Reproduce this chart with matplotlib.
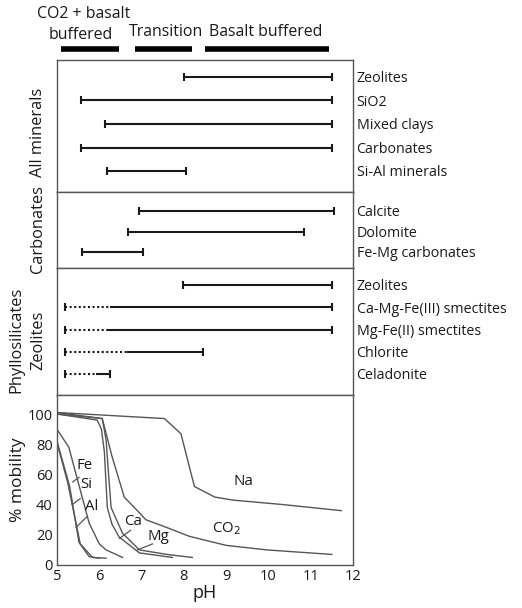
import matplotlib
matplotlib.use("Agg")
import matplotlib.pyplot as plt
import matplotlib.transforms as mtransforms

plt.rcParams['font.family'] = ['Open Sans', 'DejaVu Sans']

# ---------------- data ----------------
# Panel 1: All minerals (pH ranges)
all_names = ["Zeolites", "SiO2", "Mixed clays", "Carbonates", "Si-Al minerals"]
all_start = [8.0, 5.56, 6.13, 5.56, 6.19]
all_end = [11.5, 11.5, 11.5, 11.5, 8.06]

# Panel 2: Carbonates
carb_names = ["Calcite", "Dolomite", "Fe-Mg carbonates"]
carb_start = [6.93, 6.68, 5.6]
carb_end = [11.56, 10.84, 7.03]

# Panel 3: Phyllosilicates / Zeolites (dotted part, then solid part)
phyl_names = ["Zeolites", "Ca-Mg-Fe(III) smectites", "Mg-Fe(II) smectites",
              "Chlorite", "Celadonite"]
phyl_dot_start = [None, 5.19, 5.19, 5.19, 5.19]
phyl_start = [7.97, 6.26, 6.2, 6.65, 5.92]
phyl_end = [11.5, 11.5, 11.5, 8.45, 6.26]

# Header regimes
regime_names = ["CO2 + basalt\nbuffered", "Transition", "Basalt buffered"]
regime_start = [5.1, 6.85, 8.5]
regime_end = [6.47, 8.2, 11.44]

# Panel 4: % mobility curves
na_ph = [5.0, 7.54, 7.93, 8.25, 8.73, 9.16, 10.35, 11.72]
na_val = [101, 97, 87, 52, 45, 43, 40, 36]
co2_ph = [5.0, 6.07, 6.3, 6.59, 6.9, 7.1, 7.58, 8.13, 9.0, 9.96, 11.5]
co2_val = [101, 97, 72, 45, 36, 30, 25, 19, 13, 10, 7]
ca_ph = [5.0, 5.95, 6.05, 6.12, 6.19, 6.3, 6.47, 6.95, 7.73]
ca_val = [100, 96, 90, 75, 38, 27, 18.5, 8, 5]
mg_ph = [5.0, 6.07, 6.16, 6.22, 6.28, 6.55, 6.95, 7.6, 8.2]
mg_val = [100, 97, 83, 60, 38, 21, 10, 7, 5]
fe_ph = [5.02, 5.28, 5.36, 5.76, 6.0, 6.16, 6.55]
fe_val = [89, 78, 69.5, 27.8, 14, 10, 5]
si_ph = [5.0, 5.3, 5.52, 5.76, 6.0]
si_val = [82, 52, 15, 5.5, 4.5]
al_ph = [5.0, 5.25, 5.55, 5.84, 6.16]
al_val = [81, 55, 14, 5.0, 4.5]

curve_labels = ["Fe", "Si", "Al", "Ca", "Mg", "CO$_2$", "Na"]
curve_label_ph = [5.64, 5.69, 5.83, 6.8, 7.4, 9.0, 9.4]
curve_label_val = [66, 53, 38.6, 28.7, 18.8, 24, 55]
leader_ph0 = [5.37, 5.36, 5.45, 6.48, 6.9]
leader_val0 = [55, 40, 25, 17.7, 10]
leader_ph1 = [5.52, 5.55, 5.71, 6.74, 7.26]
leader_val1 = [58, 44, 32, 23, 14]

xticks = [5, 6, 7, 8, 9, 10, 11, 12]
yticks = [0, 20, 40, 60, 80, 100]

# ---------------- layout ----------------
W, H = 522, 608
fig = plt.figure(figsize=(W / 100, H / 100), dpi=100)

def ax_at(top, bottom, left=57, right=353):
    return fig.add_axes([left / W, 1 - bottom / H, (right - left) / W, (bottom - top) / H])

frame_col = "#555555"
bar_col = "#1a1a1a"
curve_col = "#555555"
text_col = "#1a1a1a"
label_fs = 10.3

ax1 = ax_at(60, 192)
ax2 = ax_at(192, 268)
ax3 = ax_at(268, 395)
ax4 = ax_at(395, 565)

for ax in (ax1, ax2, ax3, ax4):
    ax.set_xlim(5, 12)
    for s in ax.spines.values():
        s.set_color(frame_col)
        s.set_linewidth(1.0)

def range_panel(ax, names, starts, ends, ylim, dot_starts=None):
    tr = mtransforms.blended_transform_factory(ax.transAxes, ax.transData)
    for i, (n, a, b) in enumerate(zip(names, starts, ends)):
        ax.plot([a, b], [i, i], color=bar_col, lw=1.5, solid_capstyle='butt')
        ax.plot([b], [i], marker='|', ms=6, mew=1.5, color=bar_col)
        if dot_starts is not None and dot_starts[i] is not None:
            ax.plot([dot_starts[i], a], [i, i], color=bar_col, lw=1.5, ls=(0, (1, 1.2)))
            ax.plot([dot_starts[i]], [i], marker='|', ms=6, mew=1.5, color=bar_col)
        else:
            ax.plot([a], [i], marker='|', ms=6, mew=1.5, color=bar_col)
        ax.text(1.012, i + 0.08, n, transform=tr,
                ha='left', va='center', fontsize=label_fs, color=text_col)
    ax.set_ylim(*ylim)
    ax.set_xticks([])
    ax.set_yticks([])

range_panel(ax1, all_names, all_start, all_end, (4.89, -0.72))
range_panel(ax2, carb_names, carb_start, carb_end, (2.78, -0.93))
range_panel(ax3, phyl_names, phyl_start, phyl_end, (4.95, -0.77), dot_starts=phyl_dot_start)

# header regime bars and labels
htr = mtransforms.blended_transform_factory(ax1.transData, fig.transFigure)
for name, a, b in zip(regime_names, regime_start, regime_end):
    ax1.plot([a, b], [1 - 49 / H, 1 - 49 / H], color="black", lw=4, solid_capstyle='butt',
             transform=htr, clip_on=False)
hfs = 11.4
fig.text(84 / W, 1 - 14 / H, "CO2 + basalt", ha='center', va='center', fontsize=hfs, color=text_col)
fig.text(81 / W, 1 - 35 / H, "buffered", ha='center', va='center', fontsize=hfs, color=text_col)
fig.text(166 / W, 1 - 32 / H, "Transition", ha='center', va='center', fontsize=hfs, color=text_col)
fig.text(266 / W, 1 - 32 / H, "Basalt buffered", ha='center', va='center', fontsize=hfs, color=text_col)

# left side panel labels
sfs = 11.8
fig.text(38 / W, 1 - 132 / H, "All minerals", rotation=90, ha='center', va='center', fontsize=sfs, color=text_col)
fig.text(38 / W, 1 - 229 / H, "Carbonates", rotation=90, ha='center', va='center', fontsize=sfs, color=text_col)
fig.text(16 / W, 1 - 340 / H, "Phyllosilicates", rotation=90, ha='center', va='center', fontsize=sfs, color=text_col)
fig.text(38 / W, 1 - 340 / H, "Zeolites", rotation=90, ha='center', va='center', fontsize=sfs, color=text_col)

# bottom panel
for xs, ys in [(na_ph, na_val), (co2_ph, co2_val), (ca_ph, ca_val), (mg_ph, mg_val),
               (fe_ph, fe_val), (si_ph, si_val), (al_ph, al_val)]:
    ax4.plot(xs, ys, color=curve_col, lw=1.0)
for t, x, y in zip(curve_labels, curve_label_ph, curve_label_val):
    ax4.text(x, y, t, ha='center', va='center', fontsize=10.8, color=text_col)
for x0, y0, x1, y1 in zip(leader_ph0, leader_val0, leader_ph1, leader_val1):
    ax4.plot([x0, x1], [y0, y1], color=curve_col, lw=0.9)

ax4.set_ylim(0, 112.6)
ax4.set_xticks(xticks)
ax4.set_yticks(yticks)
ax4.tick_params(length=0, labelsize=10.5, pad=3, colors=text_col)
ax4.set_xlabel("pH", fontsize=13, labelpad=0, color=text_col)
ax4.set_ylabel("% mobility", fontsize=12.5, labelpad=1, color=text_col)

fig.savefig("out.png", dpi=100)
